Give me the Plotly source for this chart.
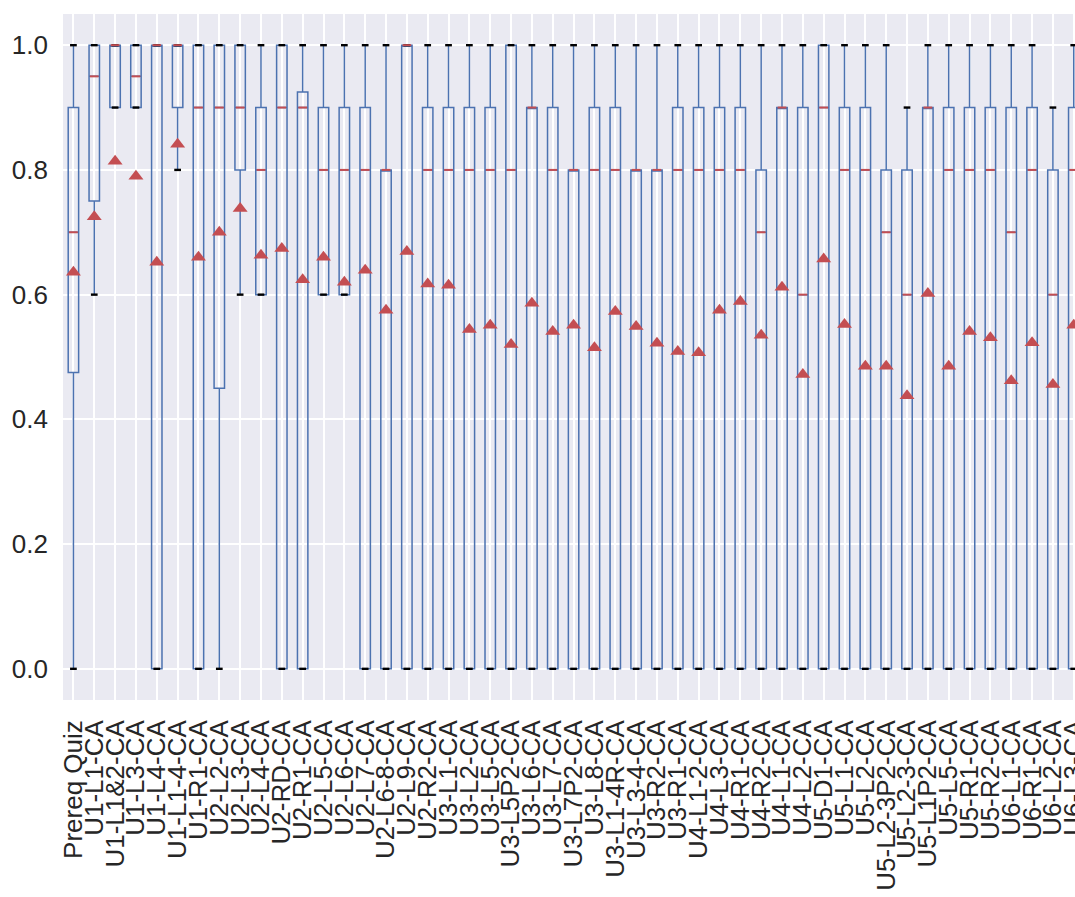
import plotly.graph_objects as go

categories = ["Prereq Quiz", "U1-L1-CA", "U1-L1&2-CA", "U1-L3-CA", "U1-L4-CA", "U1-L1-4-CA",
              "U1-R1-CA", "U2-L2-CA", "U2-L3-CA", "U2-L4-CA", "U2-RD-CA", "U2-R1-CA",
              "U2-L5-CA", "U2-L6-CA", "U2-L7-CA", "U2-L6-8-CA", "U2-L9-CA", "U2-R2-CA",
              "U3-L1-CA", "U3-L2-CA", "U3-L5-CA", "U3-L5P2-CA", "U3-L6-CA", "U3-L7-CA",
              "U3-L7P2-CA", "U3-L8-CA", "U3-L1-4R-CA", "U3-L3-4-CA", "U3-R2-CA", "U3-R1-CA",
              "U4-L1-2-CA", "U4-L3-CA", "U4-R1-CA", "U4-R2-CA", "U4-L1-CA", "U4-L2-CA",
              "U5-D1-CA", "U5-L1-CA", "U5-L2-CA", "U5-L2-3P2-CA", "U5-L2-3-CA", "U5-L1P2-CA",
              "U5-L5-CA", "U5-R1-CA", "U5-R2-CA", "U6-L1-CA", "U6-R1-CA", "U6-L2-CA", "U6-L3-CA"]

lower_whisker = [0.0, 0.6, 0.9, 0.9, 0.0, 0.8, 0.0, 0.0, 0.6, 0.6, 0.0, 0.0,
                 0.6, 0.6, 0.0, 0.0, 0.0, 0.0, 0.0, 0.0, 0.0, 0.0, 0.0, 0.0,
                 0.0, 0.0, 0.0, 0.0, 0.0, 0.0, 0.0, 0.0, 0.0, 0.0, 0.0, 0.0,
                 0.0, 0.0, 0.0, 0.0, 0.0, 0.0, 0.0, 0.0, 0.0, 0.0, 0.0, 0.0, 0.0]
q1 = [0.475, 0.75, 0.9, 0.9, 0.0, 0.9, 0.0, 0.45, 0.8, 0.6, 0.0, 0.0,
      0.6, 0.6, 0.0, 0.0, 0.0, 0.0, 0.0, 0.0, 0.0, 0.0, 0.0, 0.0,
      0.0, 0.0, 0.0, 0.0, 0.0, 0.0, 0.0, 0.0, 0.0, 0.0, 0.0, 0.0,
      0.0, 0.0, 0.0, 0.0, 0.0, 0.0, 0.0, 0.0, 0.0, 0.0, 0.0, 0.0, 0.0]
medians = [0.7, 0.95, 1.0, 0.95, 1.0, 1.0, 0.9, 0.9, 0.9, 0.8, 0.9, 0.9,
           0.8, 0.8, 0.8, 0.8, 1.0, 0.8, 0.8, 0.8, 0.8, 0.8, 0.9, 0.8,
           0.8, 0.8, 0.8, 0.8, 0.8, 0.8, 0.8, 0.8, 0.8, 0.7, 0.9, 0.6,
           0.9, 0.8, 0.8, 0.7, 0.6, 0.9, 0.8, 0.8, 0.8, 0.7, 0.8, 0.6, 0.8]
q3 = [0.9, 1.0, 1.0, 1.0, 1.0, 1.0, 1.0, 1.0, 1.0, 0.9, 1.0, 0.925,
      0.9, 0.9, 0.9, 0.8, 1.0, 0.9, 0.9, 0.9, 0.9, 1.0, 0.9, 0.9,
      0.8, 0.9, 0.9, 0.8, 0.8, 0.9, 0.9, 0.9, 0.9, 0.8, 0.9, 0.9,
      1.0, 0.9, 0.9, 0.8, 0.8, 0.9, 0.9, 0.9, 0.9, 0.9, 0.9, 0.8, 0.9]
upper_whisker = [1.0, 1.0, 1.0, 1.0, 1.0, 1.0, 1.0, 1.0, 1.0, 1.0, 1.0, 1.0,
                 1.0, 1.0, 1.0, 1.0, 1.0, 1.0, 1.0, 1.0, 1.0, 1.0, 1.0, 1.0,
                 1.0, 1.0, 1.0, 1.0, 1.0, 1.0, 1.0, 1.0, 1.0, 1.0, 1.0, 1.0,
                 1.0, 1.0, 1.0, 1.0, 0.9, 1.0, 1.0, 1.0, 1.0, 1.0, 1.0, 0.9, 1.0]
means = [0.636, 0.725, 0.814, 0.79, 0.652, 0.841, 0.66, 0.70, 0.738, 0.663, 0.674, 0.624,
         0.66, 0.62, 0.639, 0.575, 0.669, 0.617, 0.615, 0.544, 0.551, 0.52, 0.586, 0.541,
         0.551, 0.515, 0.573, 0.549, 0.522, 0.509, 0.507, 0.575, 0.589, 0.535, 0.612, 0.472,
         0.657, 0.552, 0.485, 0.485, 0.438, 0.602, 0.485, 0.541, 0.531, 0.462, 0.523, 0.456, 0.551]

positions = list(range(1, len(categories) + 1))

BLUE = "#4C72B0"
RED = "#C44E52"
FONT = "Liberation Sans, Arial, sans-serif"
FSIZE = 26

fig = go.Figure()

fig.add_trace(go.Box(
    x=positions, q1=q1, median=medians, q3=q3,
    lowerfence=lower_whisker, upperfence=upper_whisker,
    width=0.5, whiskerwidth=0,
    line=dict(color=BLUE, width=1.5),
    fillcolor="rgba(0,0,0,0)",
    boxpoints=False, showlegend=False, hoverinfo="skip",
))

# whisker caps (black)
fig.add_trace(go.Scatter(
    x=positions + positions, y=lower_whisker + upper_whisker,
    mode="markers", showlegend=False, hoverinfo="skip",
    marker=dict(symbol="line-ew", size=4.8, line=dict(color="black", width=2.4)),
))

# medians (red)
fig.add_trace(go.Scatter(
    x=positions, y=medians, mode="markers", showlegend=False, hoverinfo="skip",
    marker=dict(symbol="line-ew", size=6.2, line=dict(color=RED, width=2)),
))

# means (red triangles)
fig.add_trace(go.Scatter(
    x=positions, y=means, mode="markers", showlegend=False, hoverinfo="skip",
    marker=dict(symbol="triangle-up", size=13, color=RED, line=dict(width=0)),
))

fig.update_layout(
    width=1075, height=897,
    margin=dict(l=63, r=0, t=14, b=197, autoexpand=False),
    paper_bgcolor="white",
    plot_bgcolor="#EAEAF2",
    font=dict(family=FONT, size=FSIZE, color="#262626"),
    xaxis=dict(
        tickmode="array", tickvals=positions, ticktext=categories,
        tickangle=-90, range=[0.5, 49.06], automargin=False,
        showgrid=True, gridcolor="white", gridwidth=1.6,
        zeroline=False, showline=False, ticks="",
        ticklabelstandoff=14, ticklabeloverflow="allow",
        tickfont=dict(family=FONT, size=FSIZE, color="#262626"),
    ),
    yaxis=dict(
        range=[-0.05, 1.05], automargin=False,
        tickvals=[0.0, 0.2, 0.4, 0.6, 0.8, 1.0], tickformat=".1f",
        showgrid=True, gridcolor="white", gridwidth=1.6,
        zeroline=False, showline=False, ticks="",
        ticklabelstandoff=14,
        tickfont=dict(family=FONT, size=FSIZE, color="#262626"),
    ),
)

fig.write_html("out.html")
